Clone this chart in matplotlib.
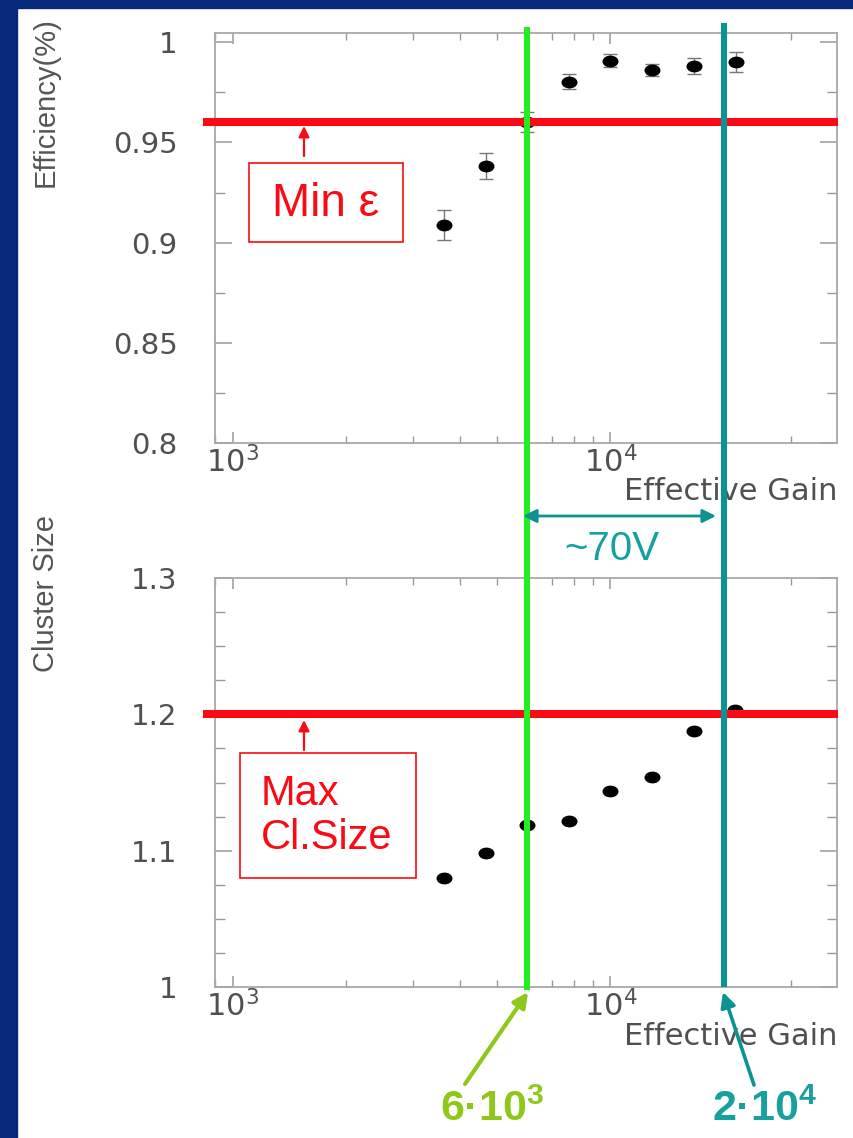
import numpy as np
import matplotlib
matplotlib.use("Agg")
import matplotlib.pyplot as plt
from matplotlib.patches import Rectangle, FancyArrowPatch
from matplotlib.path import Path
from matplotlib.transforms import blended_transform_factory
from matplotlib.ticker import MultipleLocator, LogLocator, NullFormatter, FuncFormatter

plt.rcParams['font.family'] = ['DejaVu Sans']
plt.rcParams['mathtext.fontset'] = 'custom'
plt.rcParams['mathtext.rm'] = 'Liberation Sans'
plt.rcParams['mathtext.bf'] = 'Liberation Sans:bold'

# data
eff_gain = [3.63e3, 4.69e3, 6.0e3, 7.78e3, 1.0e4, 1.29e4, 1.66e4, 2.15e4]
efficiency = [0.9088, 0.9383, 0.9601, 0.9803, 0.9907, 0.9863, 0.9883, 0.9900]
eff_err = [0.0073, 0.0064, 0.005, 0.0038, 0.0032, 0.003, 0.004, 0.005]

cs_gain = [3.62e3, 4.67e3, 6.0e3, 7.77e3, 9.97e3, 1.29e4, 1.66e4, 2.14e4]
cluster_size = [1.0796, 1.098, 1.119, 1.1218, 1.1438, 1.1544, 1.188, 1.2034]

min_eff = 0.96
max_cs = 1.2
gain_low = 6e3
gain_high = 2e4

red = '#fa0a14'
green = '#22ee22'
teal = '#0c9292'
teal_txt = '#16a0a0'
lime = '#8fc81a'
blue = '#06297c'

W, H = 854, 1138
fig = plt.figure(figsize=(W / 100, H / 100), dpi=100)


def fx(px):
    return px / W


def fy(py):
    return 1 - py / H


# blue slide background
fig.patches.append(Rectangle((0, 0), fx(17), 1, transform=fig.transFigure, color=blue, zorder=0))
fig.patches.append(Rectangle((0, fy(8)), 1, 8 / H, transform=fig.transFigure, color=blue, zorder=0))

ax1 = fig.add_axes([fx(215), fy(443), 622 / W, 410 / H])
ax2 = fig.add_axes([fx(215), fy(987), 622 / W, 409 / H])

circ = Path.unit_circle()
dot = Path(circ.vertices * np.array([1.4, 1.0]), circ.codes)


def style(ax):
    ax.set_xscale('log')
    ax.set_xlim(898, 39770)
    for s in ax.spines.values():
        s.set_color('#a8a8a8')
        s.set_linewidth(1.3)
    ax.tick_params(which='both', direction='in', top=True, right=True,
                   color='#999999', labelcolor='#505050')
    ax.tick_params(axis='x', which='major', length=8, width=1.1, pad=2, labelsize=22)
    ax.tick_params(axis='x', which='minor', length=5, width=1)
    ax.tick_params(axis='y', which='major', length=12, width=1.1, pad=27, labelsize=21)
    ax.tick_params(axis='y', which='minor', length=7, width=1)
    ax.xaxis.set_major_locator(LogLocator(base=10, numticks=10))
    ax.xaxis.set_minor_locator(LogLocator(base=10, subs=np.arange(2, 10), numticks=10))
    ax.xaxis.set_minor_formatter(NullFormatter())
    ax.yaxis.set_major_formatter(FuncFormatter(lambda v, p: f'{v:g}'))
    ax.set_xlabel('Effective Gain', fontsize=22, color='#505050', ha='right', va='center')


# efficiency
style(ax1)
ax1.set_ylim(0.8, 1.0046)
ax1.yaxis.set_major_locator(MultipleLocator(0.05))
ax1.yaxis.set_minor_locator(MultipleLocator(0.025))
ax1.errorbar(eff_gain, efficiency, yerr=eff_err, fmt='none', ecolor='#777777',
             elinewidth=1, capsize=5, zorder=2)
ax1.plot(eff_gain, efficiency, ls='none', marker=dot, ms=10.5, color='black', zorder=3)
ax1.axhline(min_eff, xmin=-0.013, xmax=0.995, color=red, lw=5.8, clip_on=False, zorder=4)
ax1.xaxis.set_label_coords(1.0, -0.118)

# cluster size
style(ax2)
ax2.set_ylim(1.0, 1.3)
ax2.yaxis.set_major_locator(MultipleLocator(0.1))
ax2.yaxis.set_minor_locator(MultipleLocator(0.025))
ax2.plot(cs_gain, cluster_size, ls='none', marker=dot, ms=10.5, color='black', zorder=3)
ax2.axhline(max_cs, xmin=-0.013, xmax=0.995, color=red, lw=5.8, clip_on=False, zorder=4)
ax2.xaxis.set_label_coords(1.0, -0.12)

# y labels
ylab = dict(fontsize=21, color='#555555', rotation=90, ha='center', va='center',
            family=['Liberation Sans Narrow', 'DejaVu Sans Condensed', 'Liberation Sans'])
fig.text(fx(46), fy(102), 'Efficiency(%)', **ylab)
fig.text(fx(46), fy(593), 'Cluster Size', **ylab)

# vertical gain markers spanning both panels
blend = blended_transform_factory(ax2.transData, fig.transFigure)
ax2.plot([gain_low, gain_low], [fy(27), fy(990)], transform=blend, clip_on=False,
         color=green, lw=4.4, solid_capstyle='butt', zorder=6)
ax2.plot([gain_high, gain_high], [fy(23), fy(987)], transform=blend, clip_on=False,
         color=teal, lw=4.4, solid_capstyle='butt', zorder=6)

# Min eps box
ax1.add_patch(Rectangle((fx(249), fy(242)), (403 - 249) / W, (242 - 163) / H,
                        transform=fig.transFigure, fill=True, fc='white', ec=red,
                        lw=1.2, clip_on=False, zorder=5))
fig.text(fx(326), fy(204), 'Min ε', fontsize=33, color=red, ha='center', va='center',
         family=['Liberation Sans', 'DejaVu Sans'], zorder=6)
fig.add_artist(FancyArrowPatch(
    (fx(304), fy(156)), (fx(304), fy(126)), transform=fig.transFigure,
    arrowstyle='-|>', mutation_scale=16, color=red, lw=1.6, shrinkA=0, shrinkB=0))

# Max Cl.Size box
ax2.add_patch(Rectangle((fx(240), fy(878)), (416 - 240) / W, (878 - 753) / H,
                        transform=fig.transFigure, fill=True, fc='white', ec=red,
                        lw=1.2, clip_on=False, zorder=5))
fig.text(fx(261), fy(816), 'Max\nCl.Size', fontsize=30, color=red, ha='left', va='center',
         linespacing=1.12, family=['Liberation Sans', 'DejaVu Sans'], zorder=6)
fig.add_artist(FancyArrowPatch(
    (fx(304), fy(750)), (fx(304), fy(720)), transform=fig.transFigure,
    arrowstyle='-|>', mutation_scale=16, color=red, lw=1.6, shrinkA=0, shrinkB=0))

# ~70V span
fig.add_artist(FancyArrowPatch(
    (fx(523), fy(516)), (fx(716), fy(516)), transform=fig.transFigure,
    arrowstyle='<|-|>', mutation_scale=20, color=teal, lw=2, shrinkA=0, shrinkB=0))
fig.text(fx(612), fy(549), '~70V', fontsize=29, color=teal_txt, ha='center', va='center',
         family=['Liberation Sans', 'DejaVu Sans'])

# gain value callouts
fig.add_artist(FancyArrowPatch(
    (fx(465), fy(1084)), (fx(528), fy(992)), transform=fig.transFigure,
    arrowstyle='-|>', mutation_scale=22, color=lime, lw=3, shrinkA=0, shrinkB=0))
fig.add_artist(FancyArrowPatch(
    (fx(754), fy(1085)), (fx(723), fy(992)), transform=fig.transFigure,
    arrowstyle='-|>', mutation_scale=22, color=teal, lw=2.6, shrinkA=0, shrinkB=0))
fig.text(fx(492), fy(1110), r'6·10$^{\mathbf{3}}$', fontsize=31, fontweight='bold',
         color=lime, ha='center', va='center', family=['Liberation Sans', 'DejaVu Sans'])
fig.text(fx(765), fy(1110), r'2·10$^{\mathbf{4}}$', fontsize=31, fontweight='bold',
         color=teal_txt, ha='center', va='center', family=['Liberation Sans', 'DejaVu Sans'])

fig.savefig('out.png', dpi=100, facecolor='white')
